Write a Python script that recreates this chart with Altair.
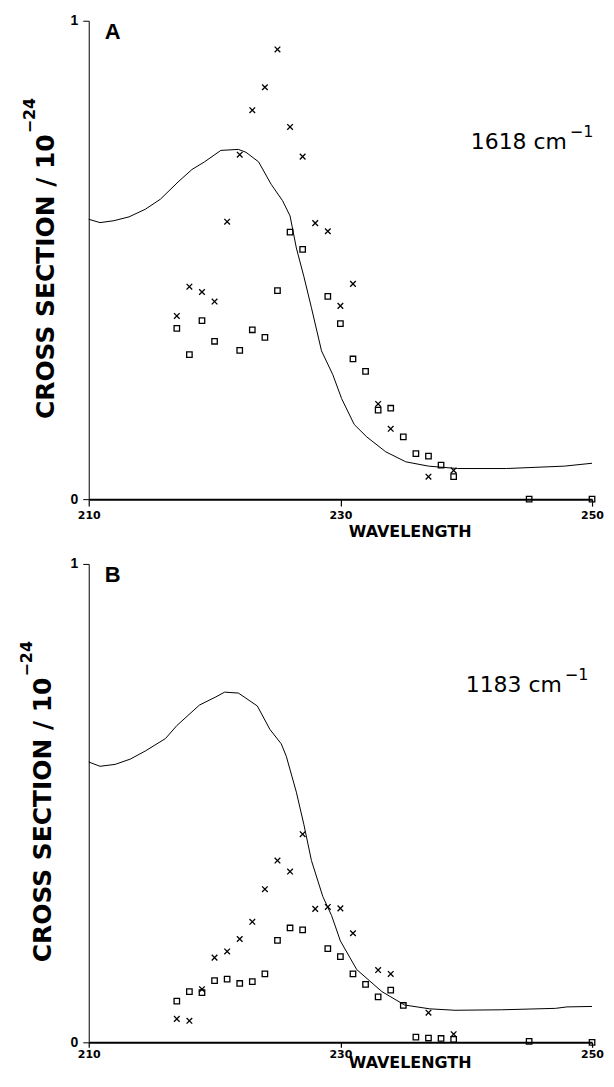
import altair as alt
import pandas as pd

WL_DOMAIN = [210, 250]
X_TICKS = [210, 230, 250]
Y_TICKS = [0, 1]
Y_TITLE_MAIN = "CROSS SECTION / 10"
Y_TITLE_SUP = "−24"
X_TITLE = "WAVELENGTH"
X_SHAPE = "M-1,-1L1,1M-1,1L1,-1"

# ---------- Panel A : 1618 cm-1 ----------
a_curve_wl = [210.0, 210.9, 212.0, 213.2, 214.5, 215.7, 217.1, 218.2, 219.2, 220.5, 221.9, 222.5,
              223.5, 224.5, 225.4, 226.0, 226.5, 227.1, 227.7, 228.5, 229.4, 230.1, 231.1, 232.1,
              233.6, 235.2, 237.0, 239.3, 243.2, 247.8, 250.0]
a_curve_cs = [0.585, 0.578, 0.582, 0.590, 0.606, 0.627, 0.663, 0.689, 0.705, 0.729, 0.731, 0.725,
              0.705, 0.658, 0.624, 0.592, 0.525, 0.465, 0.400, 0.310, 0.260, 0.210, 0.156, 0.130,
              0.099, 0.078, 0.069, 0.064, 0.064, 0.069, 0.075]
a_x_wl = [217, 218, 219, 220, 221, 222, 223, 224, 225, 226, 227, 228, 229, 230, 231, 233, 234, 237, 239]
a_x_cs = [0.383, 0.444, 0.433, 0.413, 0.580, 0.720, 0.813, 0.861, 0.940, 0.778, 0.716, 0.577, 0.560,
          0.404, 0.450, 0.199, 0.147, 0.047, 0.060]
a_sq_wl = [217, 218, 219, 220, 222, 223, 224, 225, 226, 227, 229, 230, 231, 232, 233, 234, 235, 236,
           237, 238, 239, 245, 250]
a_sq_cs = [0.357, 0.302, 0.373, 0.330, 0.311, 0.354, 0.338, 0.436, 0.558, 0.522, 0.424, 0.367, 0.293,
           0.267, 0.186, 0.190, 0.130, 0.095, 0.090, 0.071, 0.047, 0.0, 0.0]

# ---------- Panel B : 1183 cm-1 ----------
b_curve_wl = [210.0, 210.9, 212.1, 213.3, 214.5, 216.1, 217.0, 218.8, 220.1, 220.8, 221.9, 223.4,
              224.4, 225.3, 225.7, 226.5, 227.1, 227.7, 228.6, 229.3, 230.0, 231.3, 233.3, 235.1,
              237.1, 239.1, 242.8, 247.1, 248.0, 250.0]
b_curve_cs = [0.586, 0.577, 0.581, 0.592, 0.609, 0.635, 0.662, 0.705, 0.722, 0.732, 0.730, 0.703,
              0.654, 0.624, 0.598, 0.523, 0.455, 0.380, 0.305, 0.265, 0.212, 0.152, 0.106, 0.078,
              0.070, 0.067, 0.068, 0.071, 0.074, 0.075]
b_x_wl = [217, 218, 219, 220, 221, 222, 223, 224, 225, 226, 227, 228, 229, 230, 231, 233, 234, 237, 239]
b_x_cs = [0.049, 0.045, 0.111, 0.177, 0.190, 0.216, 0.252, 0.320, 0.380, 0.357, 0.435, 0.279, 0.283,
          0.280, 0.228, 0.151, 0.143, 0.062, 0.017]
b_sq_wl = [217, 218, 219, 220, 221, 222, 223, 224, 225, 226, 227, 229, 230, 231, 232, 233, 234, 235,
           236, 237, 238, 239, 245, 250]
b_sq_cs = [0.086, 0.106, 0.104, 0.129, 0.132, 0.123, 0.127, 0.143, 0.213, 0.239, 0.235, 0.196, 0.179,
           0.143, 0.121, 0.095, 0.109, 0.077, 0.011, 0.009, 0.008, 0.006, 0.002, 0.0]

# annotation texts and their anchor values (wavelength, cross section)
a_letter, b_letter = "A", "B"
letter_pos = [211.9, 0.976]
a_note, b_note = "1618 cm", "1183 cm"
note_sup = "−1"
a_note_pos = [248.0, 0.731]
b_note_pos = [247.6, 0.733]
ytitle_joint = 0.7625   # where "10" meets the exponent, in cross-section units


def panel(curve_wl, curve_cs, x_wl, x_cs, sq_wl, sq_cs, letter, note, note_pos,
          tick_size, label_pad, title_y, title_x):
    xscale = alt.Scale(domain=WL_DOMAIN, nice=False, zero=False)
    yscale = alt.Scale(domain=[0, 1], nice=False)
    xaxis = alt.Axis(values=X_TICKS, format="d", title=X_TITLE, grid=False,
                     domainWidth=2, domainColor="black", tickColor="black", tickWidth=1.2,
                     tickSize=tick_size, labelFont="DejaVu Sans", labelFontWeight="bold",
                     labelFontSize=11, labelColor="black", labelPadding=label_pad,
                     labelFlush=False, titleFont="DejaVu Sans", titleFontWeight="bold",
                     titleFontSize=16, titleColor="black", titleX=322, titleY=title_y,
                     titleAlign="center", titleBaseline="middle")
    yaxis = alt.Axis(values=Y_TICKS, format="d", title=None, grid=False,
                     domainColor="black", domainWidth=1, tickColor="black", tickSize=6,
                     labelFont="Liberation Sans", labelFontWeight="bold", labelFontSize=14,
                     labelColor="black", labelPadding=5)
    X = alt.X("wl:Q", scale=xscale, axis=xaxis)
    Y = alt.Y("cs:Q", scale=yscale, axis=yaxis)

    line = alt.Chart(pd.DataFrame({"wl": curve_wl, "cs": curve_cs})).mark_line(
        color="black", strokeWidth=1).encode(x=X, y=Y)
    crosses = alt.Chart(pd.DataFrame({"wl": x_wl, "cs": x_cs})).mark_point(
        shape=X_SHAPE, filled=False, color="black", size=32, strokeWidth=1.3,
        opacity=1).encode(x="wl:Q", y="cs:Q")
    squares = alt.Chart(pd.DataFrame({"wl": sq_wl, "cs": sq_cs})).mark_point(
        shape="square", filled=False, color="black", size=30, strokeWidth=1.3,
        opacity=1).encode(x="wl:Q", y="cs:Q")
    lett = alt.Chart(pd.DataFrame({"wl": [letter_pos[0]], "cs": [letter_pos[1]], "t": [letter]})).mark_text(
        font="Liberation Sans", fontWeight="bold", fontSize=22, color="black",
        align="center", baseline="middle").encode(x="wl:Q", y="cs:Q", text="t:N")
    main = alt.Chart(pd.DataFrame({"wl": [note_pos[0]], "cs": [note_pos[1]], "t": [note]})).mark_text(
        font="DejaVu Sans", fontSize=22, color="black", align="right",
        baseline="alphabetic").encode(x="wl:Q", y="cs:Q", text="t:N")
    sup = alt.Chart(pd.DataFrame({"wl": [note_pos[0]], "cs": [note_pos[1]], "t": [note_sup]})).mark_text(
        font="DejaVu Sans", fontSize=16, color="black", align="left", dx=3, dy=-12,
        baseline="alphabetic").encode(x="wl:Q", y="cs:Q", text="t:N")
    yt_main = alt.Chart(pd.DataFrame({"cs": [ytitle_joint], "t": [Y_TITLE_MAIN]})).mark_text(
        font="DejaVu Sans", fontWeight="bold", fontSize=25, color="black", angle=270,
        align="right", baseline="alphabetic").encode(x=alt.value(title_x), y="cs:Q", text="t:N")
    yt_sup = alt.Chart(pd.DataFrame({"cs": [ytitle_joint], "t": [Y_TITLE_SUP]})).mark_text(
        font="DejaVu Sans", fontWeight="bold", fontSize=16, color="black", angle=270,
        align="left", baseline="alphabetic", dx=1, dy=-19).encode(
        x=alt.value(title_x), y="cs:Q", text="t:N")
    return alt.layer(line, crosses, squares, lett, main, sup, yt_main, yt_sup).properties(
        width=505, height=480)


pa = panel(a_curve_wl, a_curve_cs, a_x_wl, a_x_cs, a_sq_wl, a_sq_cs, a_letter, a_note, a_note_pos,
           tick_size=7, label_pad=3, title_y=32, title_x=-35)
pb = panel(b_curve_wl, b_curve_cs, b_x_wl, b_x_cs, b_sq_wl, b_sq_cs, b_letter, b_note, b_note_pos,
           tick_size=5, label_pad=1, title_y=20, title_x=-38)

chart = alt.vconcat(pa, pb, spacing=18).configure_view(stroke=None).properties(
    padding={"left": 11, "top": 4, "right": 2, "bottom": 2}, background="white")

chart.save("out.html", embed_options={"renderer": "svg", "actions": False})
